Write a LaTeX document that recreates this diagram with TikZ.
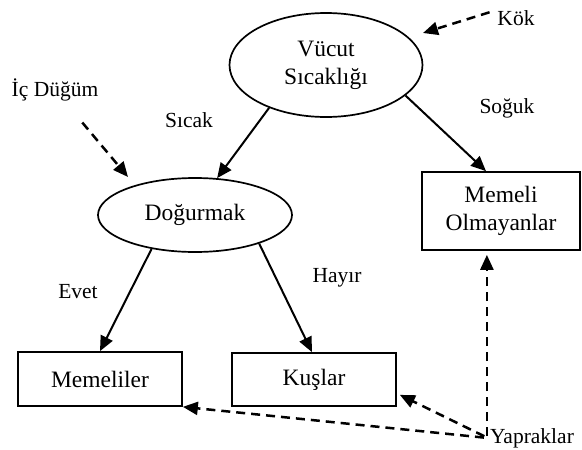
\documentclass[tikz,border=0pt]{standalone}
\usepackage{fontspec}
\setmainfont{Liberation Serif}
\usetikzlibrary{arrows.meta,shapes.geometric}
\begin{document}
\begin{tikzpicture}[x=1pt,y=-1pt,
  nodefont/.style={font=\fontsize{23.5}{28}\selectfont},
  lblfont/.style={font=\fontsize{21.5}{26}\selectfont},
  ell/.style={ellipse,draw,line width=1.7pt,inner sep=0pt,nodefont,align=center},
  box/.style={rectangle,draw,line width=1.7pt,inner sep=0pt,nodefont,align=center},
  lbl/.style={inner sep=2pt,lblfont},
  solidarr/.style={line width=2pt,-{Triangle[length=15pt,width=13pt]}},
  dasharr/.style={line width=2.5pt,dash pattern=on 9pt off 6pt,-{Triangle[length=15pt,width=13pt]}}]
\useasboundingbox (0,0) rectangle (582,450);
% nodes
\node[ell,minimum width=193pt,minimum height=104pt] (root) at (326,65) {Vücut\\Sıcaklığı};
\node[ell,minimum width=194pt,minimum height=74pt] (dog) at (195,215) {Doğurmak};
\node[box,minimum width=158pt,minimum height=78pt] (mo) at (501,211) {Memeli\\Olmayanlar};
\node[box,minimum width=164pt,minimum height=54pt] (mem) at (100,379) {Memeliler};
\node[box,minimum width=164pt,minimum height=53pt] (kus) at (314,379.5) {Kuşlar};
% labels
\node[lbl] (kok) at (516,18) {Kök};
\node[lbl] (ic) at (55,90) {İç Düğüm};
\node[lbl] (sicak) at (189,120) {Sıcak};
\node[lbl] (soguk) at (507,108) {Soğuk};
\node[lbl] (evet) at (78,292) {Evet};
\node[lbl] (hayir) at (337,278) {Hayır};
\node[lbl] (yap) at (532,438) {Yapraklar};
% free ends
\coordinate (kokT) at (423,33);
\coordinate (icT) at (128,177);
% solid connectors
\draw[solidarr] (root.217) -- (dog.59);
\draw[solidarr] (root.339) -- ([xshift=-15pt]mo.north);
\draw[solidarr] (dog.218) -- (mem.north);
\draw[solidarr] (dog.336) -- ([xshift=-2pt]kus.north);
% dashed connectors
\draw[dasharr,shorten <=6pt] (kok.160) -- (kokT);
\draw[dasharr,shorten <=25pt] (ic) -- (icT);
\draw[dasharr,shorten <=2pt,shorten >=4pt] ([xshift=-1pt]yap.west) -- ([xshift=-1pt]yap.west |- mo.south);
\draw[dasharr,shorten <=4pt] (yap.west) -- ([xshift=3pt,yshift=12pt]kus.south east);
\draw[dasharr,shorten <=4pt] (yap.west) -- (mem.south east);
\end{tikzpicture}
\end{document}
